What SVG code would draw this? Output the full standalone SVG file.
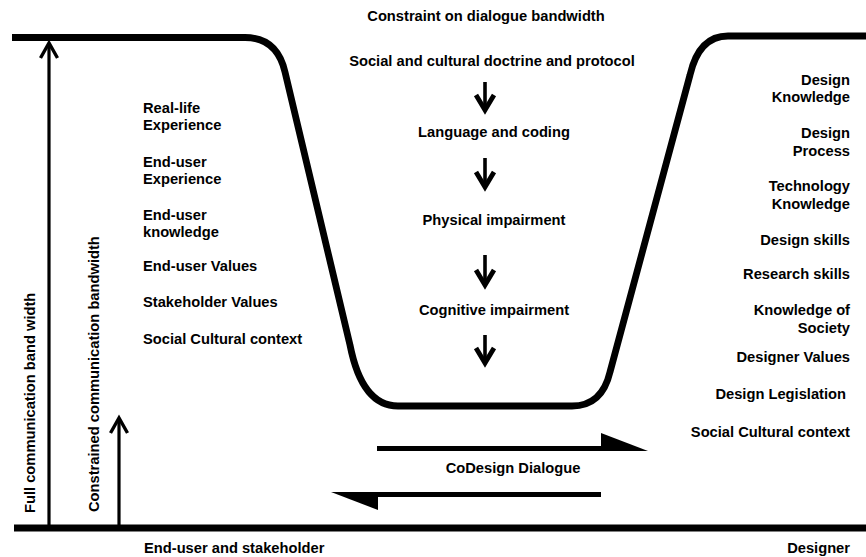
<svg xmlns="http://www.w3.org/2000/svg" width="866" height="557" viewBox="0 0 866 557">
<style>
text{font-family:"Liberation Sans",Arial,sans-serif;font-weight:bold;font-size:14.7px;fill:#000}
.m{text-anchor:middle}
.e{text-anchor:end}
.thick{fill:none;stroke:#000;stroke-width:6.8;stroke-linejoin:round}
.up{fill:none;stroke:#000;stroke-width:3.2;marker-end:url(#chev)}
.down{fill:none;stroke:#000;stroke-width:3.6;marker-end:url(#chevB)}
.solid{fill:#000;stroke:none}
</style>
<defs>
<marker id="chev" markerUnits="userSpaceOnUse" viewBox="-20 -12 24 24" markerWidth="24" markerHeight="24" refX="-3" refY="0" orient="auto" overflow="visible">
<path d="M-18,-8.5 L-3,0 L-18,8.5" fill="none" stroke="#000" stroke-width="3.4" stroke-linejoin="miter"/>
</marker>
<marker id="chevB" markerUnits="userSpaceOnUse" viewBox="-24 -12 28 24" markerWidth="28" markerHeight="24" refX="-5" refY="0" orient="auto" overflow="visible">
<path d="M-20,-9 L-5,0 L-20,9" fill="none" stroke="#000" stroke-width="4.8" stroke-linejoin="miter" stroke-miterlimit="8"/>
</marker>
</defs>

<g id="connectors">
<path id="funnel" class="thick" d="M12,37.5 H245 Q277,37.5 285,72 L350,345 Q362,406 398,406 H572 Q602,406 610,372 L690,75 Q699,36 728,36 H866"/>
<path id="baseline" class="thick" d="M14,528 H866"/>
<path id="full-arrow" class="up" d="M49,526 V43"/>
<path id="constrained-arrow" class="up" d="M119,526 V418"/>
<path class="down" d="M485,82 V110"/>
<path class="down" d="M485,158 V187"/>
<path class="down" d="M485,255 V285"/>
<path class="down" d="M485,335 V363"/>
<g id="dialogue-right">
<rect class="solid" x="377" y="446" width="226" height="5"/>
<path class="solid" d="M601,433 L648,451 L601,451 Z"/>
</g>
<g id="dialogue-left">
<rect class="solid" x="376" y="492" width="225" height="5"/>
<path class="solid" d="M331,492 L378,492 L378,510 Z"/>
</g>
</g>

<g id="axis-labels">
<text transform="translate(35,513) rotate(-90)">Full communication band width</text>
<text transform="translate(99,512) rotate(-90)">Constrained communication bandwidth</text>
<text x="144" y="553">End-user and stakeholder</text>
<text class="e" x="850" y="553">Designer</text>
</g>

<g id="enduser-factors">
<g id="real-life"><text x="143" y="113">Real-life</text><text x="143" y="130">Experience</text></g>
<g id="enduser-experience"><text x="143" y="167">End-user</text><text x="143" y="184">Experience</text></g>
<g id="enduser-knowledge"><text x="143" y="220">End-user</text><text x="143" y="237">knowledge</text></g>
<g id="enduser-values"><text x="143" y="271">End-user Values</text></g>
<g id="stakeholder-values"><text x="143" y="307">Stakeholder Values</text></g>
<g id="social-left"><text x="143" y="344">Social Cultural context</text></g>
</g>

<g id="constraints">
<g id="title"><text class="m" x="486" y="21">Constraint on dialogue bandwidth</text></g>
<g id="doctrine"><text class="m" x="492" y="66">Social and cultural doctrine and protocol</text></g>
<g id="language"><text class="m" x="494" y="137">Language and coding</text></g>
<g id="physical"><text class="m" x="494" y="225">Physical impairment</text></g>
<g id="cognitive"><text class="m" x="494" y="315">Cognitive impairment</text></g>
<g id="codesign"><text class="m" x="513" y="473">CoDesign Dialogue</text></g>
</g>

<g id="designer-factors">
<g id="design-knowledge"><text class="e" x="850" y="85">Design</text><text class="e" x="850" y="102">Knowledge</text></g>
<g id="design-process"><text class="e" x="850" y="138">Design</text><text class="e" x="850" y="156">Process</text></g>
<g id="technology-knowledge"><text class="e" x="850" y="191">Technology</text><text class="e" x="850" y="209">Knowledge</text></g>
<g id="design-skills"><text class="e" x="850" y="245">Design skills</text></g>
<g id="research-skills"><text class="e" x="850" y="279">Research skills</text></g>
<g id="knowledge-society"><text class="e" x="850" y="315">Knowledge of</text><text class="e" x="850" y="333">Society</text></g>
<g id="designer-values"><text class="e" x="850" y="362">Designer Values</text></g>
<g id="design-legislation"><text class="e" x="846" y="399">Design Legislation</text></g>
<g id="social-right"><text class="e" x="850" y="437">Social Cultural context</text></g>
</g>
</svg>
